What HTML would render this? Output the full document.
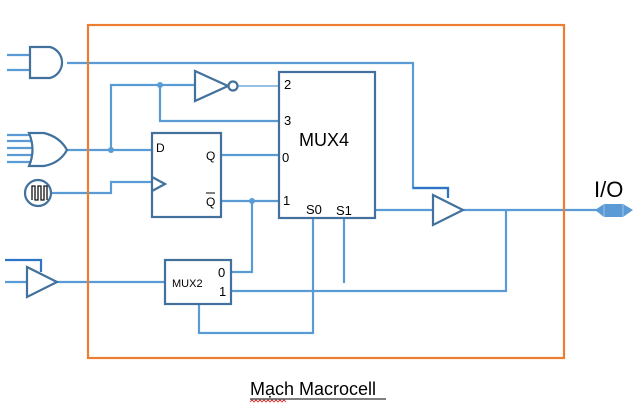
<!DOCTYPE html>
<html><head><meta charset="utf-8"><style>
html,body{margin:0;padding:0;background:#fff;width:640px;height:410px;overflow:hidden}
svg text{font-family:"Liberation Sans",sans-serif}
</style></head><body>
<svg width="640" height="410" viewBox="0 0 640 410" xmlns="http://www.w3.org/2000/svg">
<g fill="none" stroke="#5b9bd5" stroke-width="2.2">
<path d="M7 55H30M7 70H30"/>
<path d="M67 63H413V188H448V198"/>
<path d="M7 135H32M7 141H32M7 148H32M7 155H32M7 162H32"/>
<path d="M66 150H152"/>
<path d="M111 150V85H195"/>
<path d="M160 85V121H279"/>
<path d="M238 86H279" stroke-width="1.2"/>
<path d="M52 193H111V182H152"/>
<path d="M221 155H279M221 201H279"/>
<path d="M252 201V272H231"/>
<path d="M375 210H433"/>
<path d="M463 210H597"/>
<path d="M506 210V291H231"/>
<path d="M313 218V333H199V304"/>
<path d="M344 218V283"/>
<path d="M5 260H41V272" stroke="#2e75c8"/>
<path d="M5 282H27M57 282H165"/>
</g>
<g fill="#5b9bd5">
<circle cx="111" cy="150" r="3"/>
<circle cx="160" cy="85" r="3"/>
<circle cx="252" cy="201" r="3"/>
</g>
<rect x="88" y="25" width="476" height="333" fill="none" stroke="#ed7d31" stroke-width="2.2"/>
<g fill="#fff" stroke="#41719c" stroke-width="2.2">
<path d="M30 47H50A16 16 0 0 1 50 78H30Z"/>
<path d="M29 133H44Q60 137 67 150Q60 163 44 166H29Q36 150 29 133Z"/>
<circle cx="38" cy="193" r="13"/>
<path d="M195 71L228 86L195 101Z"/>
<circle cx="233" cy="86" r="4.5"/>
<rect x="152" y="133" width="69" height="84"/>
<path d="M152 177L165 184L152 191" fill="none"/>
<rect x="279" y="72" width="96" height="146"/>
<path d="M433 195L463 210L433 225Z"/>
<rect x="165" y="260" width="66" height="44"/>
<path d="M27 267L57 282L27 297Z"/>
</g>
<path d="M32 200V186H35V200H38V186H41V200H44V186H47V200" fill="none" stroke="#111" stroke-width="1.3"/>
<path d="M413 188H448V198" fill="none" stroke="#2e75c8" stroke-width="2.2"/>
<path d="M595 210L604 204H623L633 210L623 217H604Z" fill="#5b9bd5"/>
<path d="M604 204V217M623 204V217" stroke="#9dc3e6" stroke-width="1"/>
<g fill="#000" font-size="12">
<text x="156" y="152">D</text>
<text x="206" y="160">Q</text>
<text x="206" y="206">Q</text>
<path d="M206 193H215" stroke="#000" stroke-width="1"/>
<text x="284" y="89" font-size="13">2</text>
<text x="284" y="125" font-size="13">3</text>
<text x="282" y="162" font-size="13">0</text>
<text x="283" y="205" font-size="13">1</text>
<text x="306" y="214" font-size="13">S0</text>
<text x="336" y="215" font-size="13">S1</text>
<text x="299" y="146" font-size="18">MUX4</text>
<text x="172" y="287" font-size="11">MUX2</text>
<text x="218" y="277" font-size="13">0</text>
<text x="219" y="296" font-size="13">1</text>
<text x="594" y="197" font-size="22">I/O</text>
<text x="250" y="395" font-size="18">Mạch Macrocell</text>
</g>
<path d="M250 399H386" stroke="#000" stroke-width="1"/>
<path d="M250 402l2-2 2 2 2-2 2 2 2-2 2 2 2-2 2 2 2-2 2 2 2-2 2 2 2-2 2 2 2-2 2 2 2-2 2 2" fill="none" stroke="#e02020" stroke-width="0.8"/>
</svg>
</body></html>
